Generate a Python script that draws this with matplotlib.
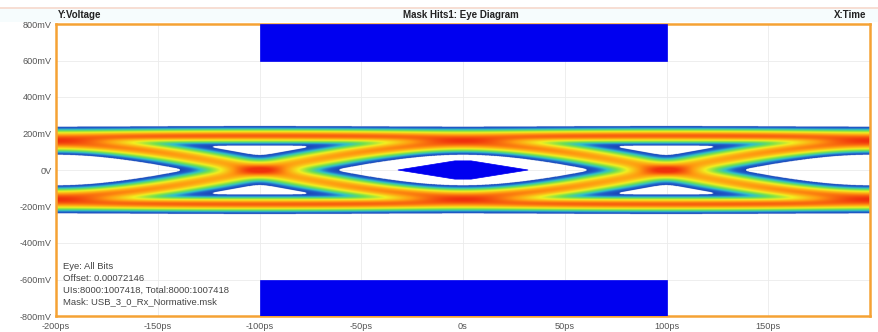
import itertools
import math
import numpy as np
import matplotlib
matplotlib.use("Agg")
import matplotlib.pyplot as plt
from matplotlib.colors import LinearSegmentedColormap
from matplotlib.patches import Polygon, Rectangle

# ---------------- data ----------------
time_ticks_ps = [-200, -150, -100, -50, 0, 50, 100, 150]
time_tick_labels = ["-200ps", "-150ps", "-100ps", "-50ps", "0s", "50ps", "100ps", "150ps"]
volt_ticks_mv = [800, 600, 400, 200, 0, -200, -400, -600, -800]
volt_tick_labels = ["800mV", "600mV", "400mV", "200mV", "0V", "-200mV", "-400mV", "-600mV", "-800mV"]

# eye parameters
unit_interval_ps = 200.0      # crossings at -100ps and +100ps
level_mv = 188.0              # long-run logic level (+/-)
edge_sigma_ps = 68.0          # edge smoothing of transitions
noise_mv = 17.5               # vertical spread of the traces
jitter_ps = 9.0               # horizontal spread at the crossings
bits_per_pattern = 5          # bits -2..2 around the eye at 0 ps

# USB 3.0 Rx normative mask
mask_top_t = [-100, 100, 100, -100]
mask_top_v = [600, 600, 800, 800]
mask_bot_t = [-100, 100, 100, -100]
mask_bot_v = [-800, -800, -600, -600]
mask_mid_t = [-32, -4, 4, 32, 4, -4]
mask_mid_v = [0, 50, 50, 0, -50, -50]

title_text = "Mask Hits1: Eye Diagram"
y_name = "Y:Voltage"
x_name = "X:Time"
info_lines = ["Eye: All Bits",
              "Offset: 0.00072146",
              "UIs:8000:1007418, Total:8000:1007418",
              "Mask: USB_3_0_Rx_Normative.msk"]

# hit-count colour scale
scale_pos = [0.0, 0.15, 0.25, 0.38, 0.56, 0.78, 1.0]
scale_col = ["#1a2fa0", "#1f5fcc", "#30c0c8", "#70e050", "#f2f020", "#ff9a10", "#f0300c"]

# ---------------- build eye density ----------------
t = np.linspace(-200, 200, 801)
y = np.linspace(-350, 350, 701)
half = bits_per_pattern // 2
ks = list(range(-half, half + 1))
erf_v = np.vectorize(math.erf)

def step(t0):
    return 0.5 * (1.0 + erf_v((t - t0) / (math.sqrt(2.0) * edge_sigma_ps)))

bit_window = {k: step(k * unit_interval_ps - unit_interval_ps / 2) - step(k * unit_interval_ps + unit_interval_ps / 2)
              for k in ks}
left_tail = 1.0 - step(ks[0] * unit_interval_ps - unit_interval_ps / 2)
right_tail = step(ks[-1] * unit_interval_ps + unit_interval_ps / 2)

density = np.zeros((y.size, t.size))
for bits in itertools.product([-1, 1], repeat=len(ks)):
    v = np.zeros_like(t)
    for b, k in zip(bits, ks):
        v += b * bit_window[k]
    v += bits[0] * left_tail + bits[-1] * right_tail
    v *= level_mv
    density += np.exp(-0.5 * ((y[:, None] - v[None, :]) / noise_mv) ** 2)

# horizontal jitter
dt = t[1] - t[0]
n = int(4 * jitter_ps / dt)
smoothed = np.zeros_like(density)
wsum = 0.0
for s in range(-n, n + 1):
    w = math.exp(-0.5 * (s * dt / jitter_ps) ** 2)
    smoothed += w * np.roll(density, s, axis=1)
    wsum += w
density = smoothed / wsum

# normalise on the level cores at the eye centre; crossings saturate
norm = density[:, np.argmin(np.abs(t))].max()
dn = np.clip(density / norm, 0, 1)
c = dn ** 0.5
c = np.ma.masked_where(dn < 0.006, c)

cmap = LinearSegmentedColormap.from_list("hits", list(zip(scale_pos, scale_col)))
cmap.set_bad((1, 1, 1, 0))

# ---------------- figure ----------------
W, H = 879, 332
fig = plt.figure(figsize=(W / 100, H / 100), dpi=100)
fig.patch.set_facecolor("white")
font = ["Liberation Sans", "DejaVu Sans"]

fig.add_artist(Rectangle((0, 1 - 22 / H), 1, 14 / H, transform=fig.transFigure,
                         facecolor="#f6fcfd", edgecolor="none", zorder=0))
fig.add_artist(plt.Line2D([0, 1], [1 - 8 / H, 1 - 8 / H], transform=fig.transFigure,
                          color="#f6d8cc", lw=1.2, zorder=1))

ax = fig.add_axes([56 / W, 1 - 316 / H, (870 - 56) / W, (316 - 24) / H])
ax.set_xlim(-200, 200)
ax.set_ylim(-800, 800)
ax.set_facecolor("white")

ax.imshow(c, extent=(t[0], t[-1], y[0], y[-1]), origin="lower", aspect="auto",
          cmap=cmap, vmin=0, vmax=1, interpolation="bilinear", zorder=2)

for tt, vv in ((mask_top_t, mask_top_v), (mask_bot_t, mask_bot_v), (mask_mid_t, mask_mid_v)):
    ax.add_patch(Polygon(list(zip(tt, vv)), closed=True, facecolor="#0000f0",
                         edgecolor="#0000f0", lw=0.5, zorder=3))

ax.set_xticks(time_ticks_ps)
ax.set_xticklabels(time_tick_labels)
ax.set_yticks(volt_ticks_mv)
ax.set_yticklabels(volt_tick_labels)
ax.tick_params(length=0, labelsize=6.6, labelcolor="#555555")
ax.tick_params(axis="x", pad=4)
ax.tick_params(axis="y", pad=3)
for lab in ax.get_xticklabels() + ax.get_yticklabels():
    lab.set_family(font)
ax.grid(True, color="#ebebeb", lw=0.6, zorder=1)
ax.set_axisbelow(True)
for sp in ax.spines.values():
    sp.set_color("#f5a234")
    sp.set_linewidth(1.8)

for i, line in enumerate(info_lines):
    ax.text(0.008, 0.171 - i * 0.041, line, transform=ax.transAxes, fontsize=6.8,
            color="#444444", family=font, va="center", ha="left", zorder=4)

fig.text(58 / W, 1 - 15 / H, y_name, fontsize=7, fontweight="bold", family=font,
         ha="left", va="center", color="#222222")
fig.text(461 / W, 1 - 15 / H, title_text, fontsize=7, fontweight="bold", family=font,
         ha="center", va="center", color="#222222")
fig.text(866 / W, 1 - 15 / H, x_name, fontsize=7, fontweight="bold", family=font,
         ha="right", va="center", color="#222222")

fig.savefig("out.png", dpi=100)
